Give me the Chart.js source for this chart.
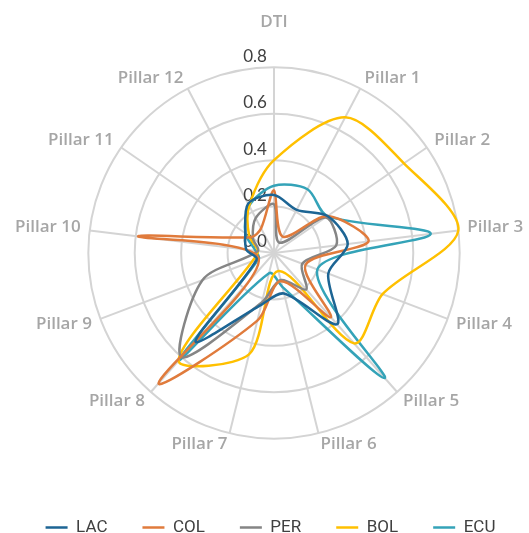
<!DOCTYPE html>
<html>
<head>
<meta charset="utf-8">
<script src="https://cdn.jsdelivr.net/npm/chart.js@4.4.1/dist/chart.umd.min.js"></script>
<style>
  html, body { margin: 0; padding: 0; background: #ffffff; overflow: hidden; }
  /* el lienzo sube 18px para dejar más alto al radar */
  canvas { display: block; margin-top: -18px; }
</style>
</head>
<body>
<canvas id="radarChart" width="529" height="551"></canvas>
<script>
// Ejes del radar (DTI + 12 pilares)
const categorias = ['DTI', 'Pillar 1', 'Pillar 2', 'Pillar 3', 'Pillar 4', 'Pillar 5', 'Pillar 6',
                    'Pillar 7', 'Pillar 8', 'Pillar 9', 'Pillar 10', 'Pillar 11', 'Pillar 12'];

// Valores
const valoresLAC = [0.25, 0.21, 0.28, 0.32, 0.25, 0.41, 0.18, 0.23, 0.51, 0.08, 0.12, 0.15, 0.24];
const valoresCOL = [0.27, 0.08, 0.28, 0.41, 0.145, 0.37, 0.125, 0.30, 0.75, 0.07, 0.59, 0.12, 0.12];
const valoresPER = [0.21, 0.05, 0.27, 0.27, 0.13, 0.21, 0.12, 0.22, 0.60, 0.33, 0.07, 0.11, 0.17];
const valoresBOL = [0.40, 0.66, 0.68, 0.80, 0.50, 0.52, 0.08, 0.45, 0.62, 0.10, 0.07, 0.13, 0.23];
const valoresECU = [0.29, 0.31, 0.28, 0.68, 0.20, 0.72, 0.15, 0.09, 0.62, 0.07, 0.08, 0.15, 0.23];

// Etiquetas de la escala radial
const etiquetasEscala = [0, 0.2, 0.4, 0.6, 0.8];

// Dibuja las etiquetas de la escala (incluido 0.0) un poco a la izquierda del eje vertical
const etiquetasEscalaPlugin = {
    id: 'etiquetasEscala',
    beforeDatasetsDraw(chart) {
        const scale = chart.scales.r;
        const ctx = chart.ctx;
        ctx.save();
        ctx.font = '17px Lato';
        ctx.fillStyle = '#404040';
        ctx.textAlign = 'center';
        ctx.textBaseline = 'middle';
        etiquetasEscala.forEach(v => {
            const d = scale.getDistanceFromCenterForValue(v);
            ctx.fillText(v.toFixed(1), scale.xCenter - 19, scale.yCenter - d - 11);
        });
        ctx.restore();
    }
};

function serie(label, data, color) {
    return {
        label: label,
        data: data,
        borderColor: color,
        backgroundColor: color,
        borderWidth: 2.5,
        fill: false,
        pointRadius: 0,
        pointHoverRadius: 0,
        tension: 0.3
    };
}

const ctx = document.getElementById('radarChart');

new Chart(ctx, {
    type: 'radar',
    data: {
        labels: categorias,
        datasets: [
            serie('LAC', valoresLAC, '#1d6594'),
            serie('COL', valoresCOL, '#e07b3c'),
            serie('PER', valoresPER, '#858585'),
            serie('BOL', valoresBOL, '#ffc000'),
            serie('ECU', valoresECU, '#34a3b8')
        ]
    },
    options: {
        responsive: false,
        animation: false,
        layout: { padding: { left: 10, right: -2, top: 0, bottom: -13 } },
        plugins: {
            legend: {
                position: 'bottom',
                labels: {
                    usePointStyle: true,
                    pointStyle: 'line',
                    pointStyleWidth: 22,
                    padding: 35,
                    color: '#404040',
                    font: { family: 'Roboto', size: 17 }
                }
            },
            tooltip: { enabled: false }
        },
        scales: {
            r: {
                min: 0,
                max: 0.8,
                ticks: { display: false, stepSize: 0.2 },
                grid: { circular: true, color: '#d4d4d4', lineWidth: 2 },
                angleLines: { color: '#d4d4d4', lineWidth: 2 },
                pointLabels: {
                    color: '#a6a6a6',
                    // DTI va más separado, por encima de la etiqueta 0.8
                    padding: (c) => c.index === 0 ? 43 : 9,
                    font: { family: 'Open Sans', size: 17, weight: '600', lineHeight: '4px' }
                }
            }
        }
    },
    plugins: [etiquetasEscalaPlugin]
});
</script>
</body>
</html>
